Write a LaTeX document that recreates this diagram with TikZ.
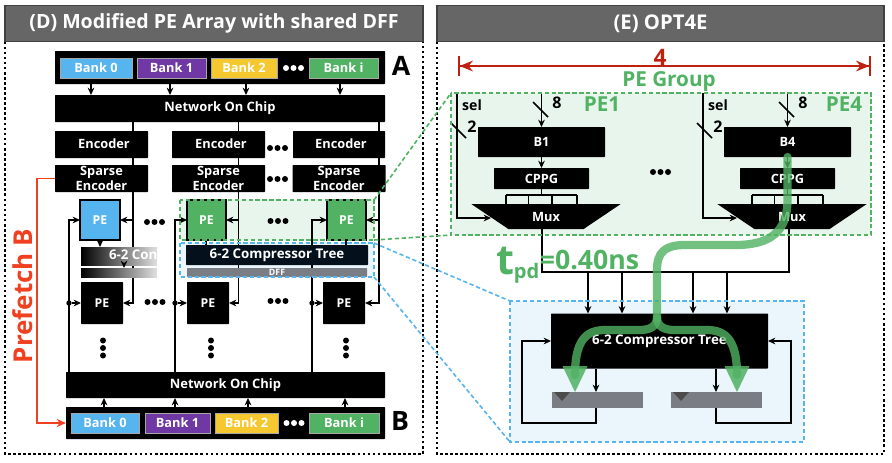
\documentclass[tikz,border=0pt]{standalone}
\usepackage{fontspec}
\setmainfont{Open Sans}
\usetikzlibrary{calc,arrows.meta,positioning,backgrounds,shapes.geometric}
\definecolor{hdrgray}{RGB}{102,102,102}
\definecolor{bankblue}{RGB}{86,180,238}
\definecolor{bankpurple}{RGB}{112,56,164}
\definecolor{bankyellow}{RGB}{246,200,48}
\definecolor{bankgreen}{RGB}{80,178,98}
\definecolor{regiongreen}{RGB}{232,245,236}
\definecolor{regionblue}{RGB}{234,245,252}
\definecolor{treeblack}{RGB}{4,16,28}
\definecolor{dffgray}{RGB}{122,126,132}
\definecolor{fetchred}{RGB}{240,64,32}
\definecolor{dimred}{RGB}{192,32,16}
\newcommand{\tridots}[3][black]{\foreach \k in {-1,0,1}{\fill[#1] (#2+\k*7.5,#3) circle (3);}}
\newcommand{\tridotsv}[2]{\foreach \k in {-1,0,1}{\fill (#1,#2+\k*7.5) circle (3);}}
\newcommand{\fsz}[1]{\fontsize{#1}{#1}\selectfont\bfseries}
\tikzset{
  sz/.style 2 args={minimum width=#1*0.75pt, minimum height=#2*0.75pt},
  base/.style={inner sep=0pt, outer sep=0pt},
  header/.style={base, fill=hdrgray, draw=black!75, line width=1pt, text=white, font=\fsz{15.2}},
  panel/.style={draw=black, line width=1pt, dash pattern=on 2pt off 1.8pt},
  blk/.style={base, fill=black, text=white, font=\fsz{9.7}, rounded corners=0.5pt},
  enc/.style={blk, sz={93}{27}, font=\fsz{9.6}, align=center},
  bank/.style={base, text=white, font=\fsz{9.6}, draw=black!35, line width=0.3pt},
  pebox/.style={base, fill=bankgreen, draw=black, line width=1.3pt, text=white, font=\fsz{9.2}},
  pedark/.style={blk, sz={42}{42}, font=\fsz{9.2}},
  wire/.style={line width=1.1pt, black},
  arw/.style={wire, -{Stealth[length=5.5pt, width=5pt]}},
  dotnode/.style={circle, fill=black, inner sep=0pt, minimum size=4pt},
  gdash/.style={line width=1.2pt, bankgreen, dash pattern=on 3.2pt off 2pt},
  bdash/.style={line width=1.2pt, bankblue, dash pattern=on 3.2pt off 2pt},
  gflow/.style={line width=6.2pt, bankgreen, opacity=0.8, line cap=round, line join=round},
  lbl/.style={base, inner sep=0pt},
}
\begin{document}
\begin{tikzpicture}[x=0.75pt, y=-0.75pt]
\useasboundingbox (0,0) rectangle (892,462);
% panels
\draw[panel] (5,6) rectangle (423,454); \draw[panel] (437,6) rectangle (884,454);
\node[header, sz={418}{36}, font=\fsz{14.7}] (hdrD) at (214,23.5) {(D) Modified PE Array with shared DFF};
\node[header, sz={447}{36}] (hdrE) at (660.5,23.5) {(E) OPT4E};
% array, top half
\node[blk, sz={330}{33}] (bankA) at (220,67.5) {}; \node[blk, sz={330}{27}] (nocA) at (220,108.5) {Network On Chip};
\node[bank, sz={72}{20}, fill=bankblue] (a0) at (96,68) {Bank 0};
\node[bank, sz={69}{20}, fill=bankpurple] (a1) at (171.5,68) {Bank 1};
\node[bank, sz={66}{20}, fill=bankyellow] (a2) at (244,68) {Bank 2};
\node[bank, sz={69}{20}, fill=bankgreen] (a3) at (343.5,68) {Bank i};
\node[lbl, font=\fsz{20}] (labA) at (401,66) {A};
\node[blk, sz={93}{27}] (enc1) at (101.5,144.5) {}; \node[blk, sz={93}{27}] (enc2) at (218.5,144.5) {}; \node[blk, sz={92}{27}] (enc3) at (339,144.5) {};
\node[lbl, text=white, font=\fsz{9.6}] (encT1) at (104,144) {Encoder}; \node[lbl, text=white, font=\fsz{9.6}] (encT2) at (221,144) {Encoder}; \node[lbl, text=white, font=\fsz{9.6}] (encT3) at (341,144) {Encoder};
\node[enc] (spa1) at (101.5,178.5) {Sparse\\[1.5pt]Encoder}; \node[enc] (spa2) at (218.5,178.5) {Sparse\\[1.5pt]Encoder}; \node[enc] (spa3) at (339,178.5) {Sparse\\[1.5pt]Encoder};
% first PE row
\node[pebox, sz={40}{40}, fill=bankblue] (pe1a) at (100,220) {PE};
\node[pebox, sz={39}{40}] (pe2a) at (206.5,220) {PE};
\node[pebox, sz={39}{40}] (pe3a) at (346.5,220) {PE};
% faded tree of the plain column
\node[base, sz={76}{18}, left color=black, right color=black!12] (fadeT) at (119,256) {};
\node[base, sz={76}{9}, left color=black, right color=black!12] (fadeD) at (119,272.5) {};
\begin{scope}\clip (fadeT.north west) rectangle (fadeT.south east);
\node[lbl, text=white, font=\fsz{10}, anchor=west] (fadeL) at (109,255) {6-2 Con};
\end{scope}
% shared tree
\node[blk, sz={182}{20}, fill=treeblack, font=\fsz{10}] (tree) at (277,255) {6-2 Compressor Tree};
\node[blk, sz={180}{9}, fill=dffgray, font=\fsz{6.6}] (dff) at (277,272.5) {DFF};
% second PE row
\node[pedark] (pe1b) at (102,303) {PE}; \node[pedark] (pe2b) at (208,303) {PE}; \node[pedark] (pe3b) at (344,303) {PE};
% array, bottom half
\node[blk, sz={319}{26}] (nocB) at (225.5,385) {Network On Chip}; \node[blk, sz={319}{32}] (bankB) at (225.5,423) {};
\node[bank, sz={68}{20}, fill=bankblue] (b0) at (105,423) {Bank 0};
\node[bank, sz={65}{20}, fill=bankpurple] (b1) at (177.5,423) {Bank 1};
\node[bank, sz={63}{20}, fill=bankyellow] (b2) at (246.5,423) {Bank 2};
\node[bank, sz={70}{20}, fill=bankgreen] (b3) at (344,423) {Bank i};
\node[lbl, font=\fsz{20}] (labB) at (400,421) {B};
\node[lbl, rotate=90, text=fetchred, font=\fsz{19.5}] (fetch) at (23,296) {Prefetch B};
\tridots[white]{293.5}{68} \tridots[white]{294}{423}
\tridots{277.5}{148} \tridots{277.5}{179} \tridots{154.5}{222} \tridots{278}{221} \tridots{155}{302} \tridots{278}{301}
\tridotsv{103}{348} \tridotsv{211}{348} \tridotsv{346}{348}
% right panel
\node[lbl, text=dimred, font=\fsz{17}] (four) at (660,57) {4};
\node[lbl, text=bankgreen, font=\fsz{15.5}] (grp) at (669,81) {PE Group};
\coordinate (dimL) at (458,66); \coordinate (dimR) at (871,66);
\draw[dimred, line width=1.2pt, {Bar[width=15pt]Stealth[length=10pt, width=8pt]}-{Stealth[length=10pt, width=8pt]Bar[width=15pt]}] (dimL) -- (dimR);
\node[lbl, text=bankgreen, font=\fsz{15.5}] (peL1) at (602,104) {PE1};
\node[lbl, text=bankgreen, font=\fsz{15.5}] (peL4) at (844,104) {PE4};
\tridots{660.5}{172}
\foreach \g/\dx in {1/0,4/246}{
  \begin{scope}[xshift=\dx*0.75pt]
  \node[blk, sz={127}{30}, font=\fsz{9.6}] (bk\g) at (541.5,142) {B\g};
  \node[blk, sz={95}{21}, font=\fsz{9.6}] (cp\g) at (541.5,178.5) {CPPG};
  \node[base, fill=black, text=white, font=\fsz{9.6}, trapezium, shape border rotate=180, trapezium left angle=34, trapezium right angle=34, sz={148}{25}] (mx\g) at (546,216.5) {Mux};
  \node[lbl, font=\fsz{10.6}] (sel\g) at (472,105) {sel};
  \node[lbl, font=\fsz{12}] (n2\g) at (472,127) {2};
  \node[lbl, font=\fsz{12}] (n8\g) at (557,103) {8};
  \coordinate (st\g) at (457,93); \coordinate (mi\g) at (491,218); \coordinate (dt\g) at (541.5,93); \coordinate (bus\g) at (541.5,195);
  \coordinate (bu1\g) at (506,195); \coordinate (bu2\g) at (577,195);
  \coordinate (ts1\g) at (451,123); \coordinate (ts2\g) at (466,138); \coordinate (ts3\g) at (533,102); \coordinate (ts4\g) at (548,117);
  \end{scope}
}
\node[blk, sz={217}{55}, font=\fsz{10}] (ctree) at (659.5,341) {6-2 Compressor Tree};
\node[base, sz={91}{16}, fill=dffgray] (reg1) at (597.5,400) {};
\node[base, sz={91}{16}, fill=dffgray] (reg2) at (716.5,400) {};
\fill[black!70] (reg1.north west)++(2,0) -- ++(16,0) -- ++(-8,9) -- cycle;
\fill[black!70] (reg2.north west)++(2,0) -- ++(16,0) -- ++(-8,9) -- cycle;
\node[lbl, text=bankgreen, font=\fsz{20}, anchor=base west] (tpd) at (496,269.5) {\raisebox{-4pt}{\fontsize{31}{31}\selectfont t}\raisebox{-7pt}{\fontsize{15}{15}\selectfont pd}\kern0.5pt=0.40ns};
% connectors under the boxes
\begin{scope}[on background layer]
\node[base, sz={194}{40}, fill=regiongreen] (regG) at (277,220) {};
\node[base, sz={194}{34}, fill=regionblue] (regB) at (277,260) {};
\node[base, sz={420}{142}, fill=regiongreen] (regG2) at (661,164) {};
\node[base, sz={294}{141}, fill=regionblue] (regB2) at (657,371.5) {};
\foreach \x in {91,170,246,340}{\coordinate (t\x) at (\x,0); \draw[arw] (t\x |- bankA.south) -- (t\x |- nocA.north);}
\foreach \x in {104,175,248,345}{\coordinate (u\x) at (\x,0); \draw[arw] (u\x |- bankB.north) -- (u\x |- nocB.south);}
\coordinate (vl1) at (69,0); \coordinate (vl2) at (175,0); \coordinate (vl3) at (312,0);
\coordinate (vr1) at (133,0); \coordinate (vr2) at (238.5,0); \coordinate (vr3) at (379,0);
\draw[arw] (vl1 |- nocB.north) |- (pe1a.west); \draw[arw] (vl2 |- nocB.north) |- (pe2a.west); \draw[arw] (vl3 |- nocB.north) |- (pe3a.west);
\draw[arw] (vr1 |- nocA.south) |- (pe1b.east); \draw[arw] (vr2 |- nocA.south) |- (pe2b.east); \draw[arw] (vr3 |- nocA.south) |- (pe3b.east);
\draw[arw] (vr1 |- pe1a.east) -- (pe1a.east); \draw[arw] (vr2 |- pe2a.east) -- (pe2a.east); \draw[arw] (vr3 |- pe3a.east) -- (pe3a.east);
\node[dotnode] (j1) at (vl1 |- pe1b.west) {}; \node[dotnode] (j2) at (vl2 |- pe2b.west) {}; \node[dotnode] (j3) at (vl3 |- pe3b.west) {};
\draw[arw] (j1) -- (pe1b.west); \draw[arw] (j2) -- (pe2b.west); \draw[arw] (j3) -- (pe3b.west);
\draw[fetchred, line width=1.2pt, -{Stealth[length=7pt, width=6pt]}] (spa1.west) -| (37,350) |- (bankB.west);
\foreach \g in {1,4}{
  \draw[arw] (st\g) |- (mi\g); \draw[arw] (dt\g) -- (bk\g.north); \draw[arw] (bk\g.south) -- (cp\g.north);
  \draw[wire] (cp\g.south) -- (bus\g); \draw[wire] (bu1\g) -- (bu2\g);
  \foreach \s in {0,0.32,0.65,1}{\draw[wire] ($(bu1\g)!\s!(bu2\g)$) -- ++(0,10);}
  \draw[wire] (ts1\g) -- (ts2\g); \draw[wire] (ts3\g) -- (ts4\g);
}
\draw[wire] (mx1.south) ++(-4,0) -- ++(0,43) -| (789,229);
\foreach \x in {588,622,693,727}{\coordinate (w\x) at (\x,272); \draw[arw] (w\x) -- (w\x |- ctree.north);}
\coordinate (c1) at (596,0); \coordinate (c2) at (716,0);
\draw[arw] (c1 |- ctree.south) -- (c1 |- reg1.north); \draw[arw] (c2 |- ctree.south) -- (c2 |- reg2.north);
\draw[arw] (c1 |- reg1.south) -- ++(0,15) -| (522,341) -- (ctree.west);
\draw[arw] (c2 |- reg2.south) -- ++(0,15) -| (791,341) -- (ctree.east);
\end{scope}
% small arrows on the trees
\coordinate (s1) at (100,0); \coordinate (s2) at (124,0); \coordinate (s3) at (206,0); \coordinate (s4) at (346,0);
\draw[arw] (s1 |- pe1a.south) -- (s1 |- fadeT.north); \draw[arw] (s2 |- fadeT.south) -- (s2 |- fadeD.north); \draw[wire] (s3 |- pe2a.south) -- (s3 |- tree.north); \draw[wire] (s4 |- pe3a.south) -- (s4 |- tree.north);
% dashed frames and their leaders
\draw[gdash] (regG.north west) rectangle (regG.south east); \draw[bdash] (regB.north west) rectangle (regB.south east);
\draw[gdash] (regG2.north west) rectangle (regG2.south east); \draw[bdash] (regB2.north west) rectangle (regB2.south east);
\draw[gdash] (regG.north east) -- (regG2.north west); \draw[gdash] (regG.south east) -- (regG2.south west);
\draw[bdash] (regB.north east) -- (regB2.north west); \draw[bdash] (regB.south east) -- (regB2.south west);
% critical path
\coordinate (fork) at (657,318); \coordinate (tipL) at (575,392); \coordinate (tipR) at (737,392);
\draw[gflow] (bk4.south) -- (787.5,200) .. controls (787.5,232) and (770,245) .. (735,245) -- (685,245) .. controls (665,245) and (657,252) .. (657,270) -- (fork);
\draw[gflow] (fork) .. controls (657,326) and (650,330) .. (640,330) -- (605,330) .. controls (585,330) and (575,342) .. (575,375);
\draw[gflow] (fork) .. controls (657,326) and (664,330) .. (674,330) -- (707,330) .. controls (727,330) and (737,342) .. (737,375);
\fill[bankgreen, opacity=0.85] (562.5,366) -- (587.5,366) -- (tipL) -- cycle;
\fill[bankgreen, opacity=0.85] (724.5,366) -- (749.5,366) -- (tipR) -- cycle;
\end{tikzpicture}
\end{document}
